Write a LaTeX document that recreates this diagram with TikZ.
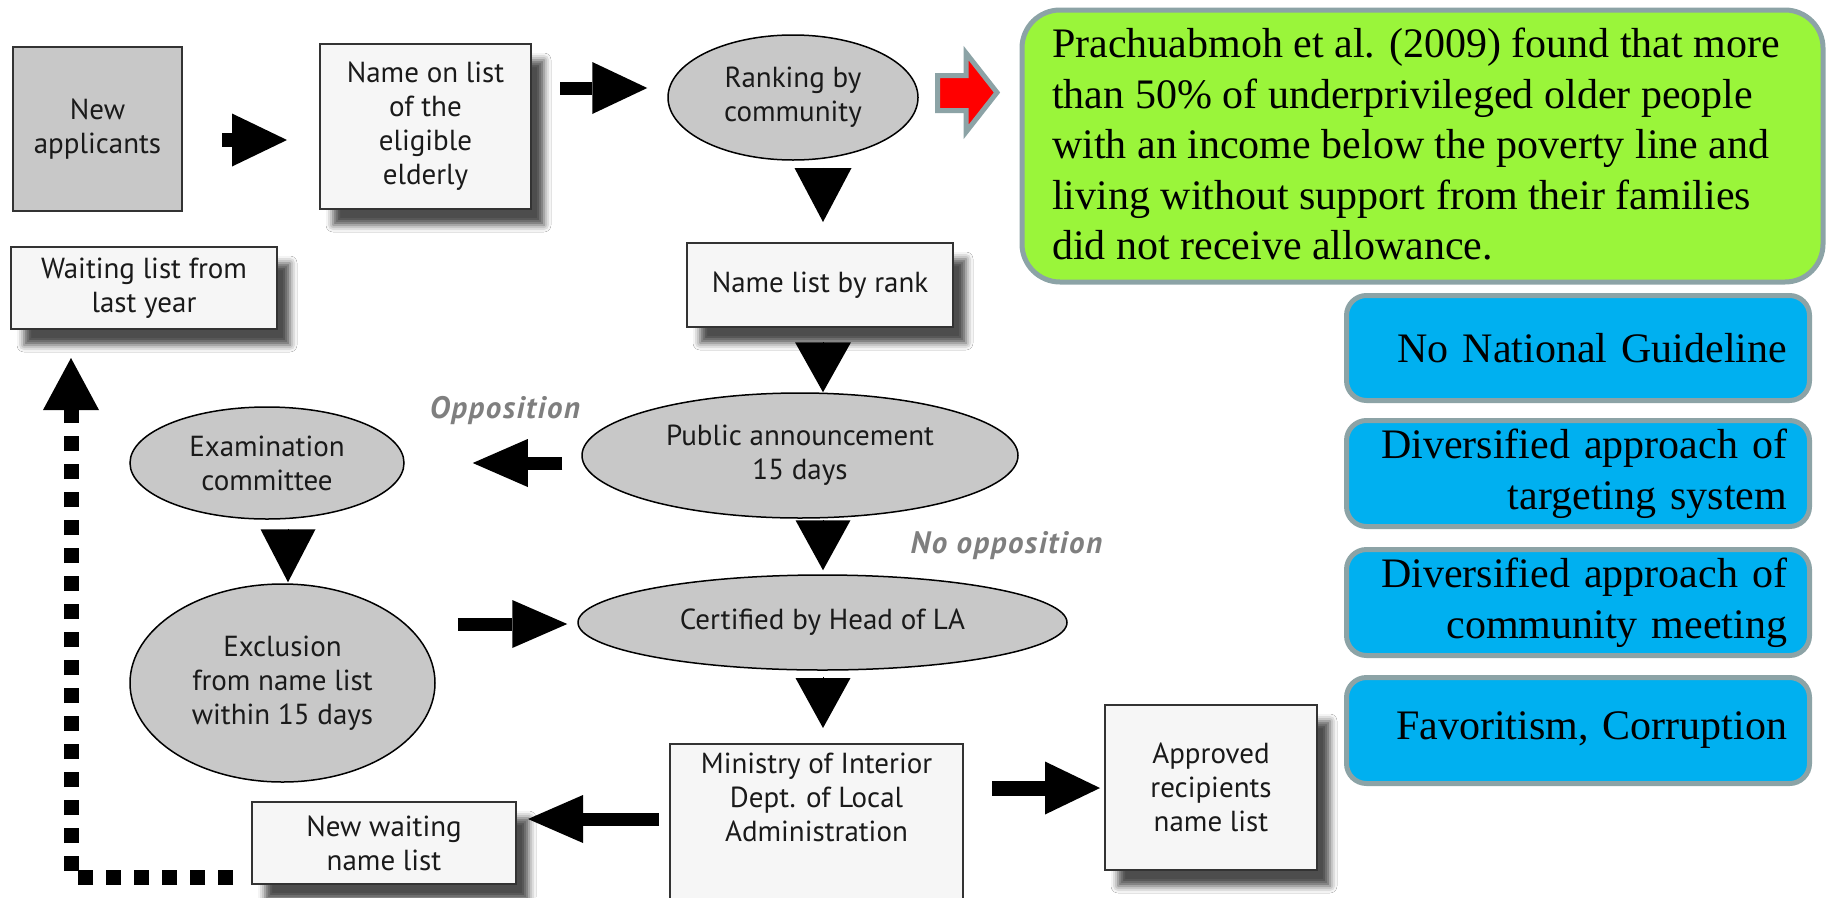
\documentclass[tikz,border=0pt]{standalone}
\usepackage{fontspec}
\setmainfont{Liberation Serif}
\newfontfamily\dia{PT Sans}
\newfontfamily\diacond[LetterSpace=5]{PT Sans}
\usetikzlibrary{shapes.geometric,arrows.meta,shadows.blur}
\definecolor{boxline}{HTML}{333333}
\definecolor{ellfill}{HTML}{C8C8C8}
\definecolor{boxfill}{HTML}{F6F6F6}
\definecolor{greenfill}{HTML}{9AF53A}
\definecolor{bluefill}{HTML}{00B0F0}
\definecolor{frame}{HTML}{8CA3A6}
\definecolor{labgray}{HTML}{7F7F7F}
\definecolor{ink}{HTML}{1A1A1A}
\begin{document}
\begin{tikzpicture}[x=1pt,y=-1pt,
  lab/.style={font=\dia\fontsize{29}{34}\selectfont, text=ink, align=center},
  graybox/.style={lab, rectangle, draw=boxline, line width=2pt, fill=ellfill, inner sep=0pt},
  plainbox/.style={lab, rectangle, draw=boxline, line width=2pt, fill=boxfill, inner sep=0pt},
  whitebox/.style={plainbox, blur shadow={shadow xshift=13pt, shadow yshift=-16pt, shadow blur radius=7pt, shadow opacity=70}},
  oval/.style={lab, ellipse, draw=black, line width=1.5pt, fill=ellfill, inner sep=0pt},
  blockarrow/.style 2 args={draw=black, line width=#1, -{Triangle[width=#2,length=55pt,line width=0pt]}},
  tri/.style 2 args={draw=black, line width=0.1pt, -{Triangle[width=#1,length=#2,line width=0pt]}},
  cond/.style={font=\diacond\bfseries\itshape\fontsize{31}{34}\selectfont, text=labgray, anchor=base, inner sep=0pt},
  note/.style={draw=frame, line width=5pt, fill=greenfill, rounded corners=38pt, inner sep=0pt},
  issue/.style={draw=frame, line width=5pt, fill=bluefill, rounded corners=20pt, minimum width=463pt, text width=418pt, inner xsep=22.5pt, inner ysep=0pt, align=right, font=\fontsize{42}{51}\selectfont},
]
\useasboundingbox (0,0) rectangle (1827,897);
\clip (0,0) rectangle (1827,897);
\fill[white] (0,0) rectangle (1827,897);

% flow nodes
\node[graybox, minimum width=169pt, minimum height=164pt] (newapp) at (97.5,129) {New\\applicants};
\node[whitebox, minimum width=211pt, minimum height=165pt] (namelist) at (425.5,126.5) {Name on list\\of the\\eligible\\elderly};
\node[whitebox, minimum width=266pt, minimum height=82pt] (waiting) at (144,288) {Waiting list from\\last year};
\node[oval, minimum width=250pt, minimum height=125pt] (ranking) at (793,97.5) {Ranking by\\community};
\node[whitebox, minimum width=266pt, minimum height=84pt] (namerank) at (820,285) {Name list by rank};
\node[oval, minimum width=436pt, minimum height=125pt] (public) at (800,455.5) {Public announcement\\15 days};
\node[oval, minimum width=274pt, minimum height=112pt] (exam) at (267,463) {Examination\\committee};
\node[oval, minimum width=305pt, minimum height=198pt] (exclusion) at (282.5,683) {Exclusion\\from name list\\within 15 days};
\node[oval, minimum width=489pt, minimum height=95pt] (certified) at (822.5,622.5) {Certified by Head of LA};
\node[plainbox, anchor=north, minimum width=293pt, inner ysep=9pt, text depth=90pt] (ministry) at (816.5,743) {Ministry of Interior\\Dept. of Local\\Administration};
\node[whitebox, minimum width=212pt, minimum height=165pt] (approved) at (1211,787.5) {Approved\\recipients\\name list};
\node[whitebox, minimum width=264pt, minimum height=82pt] (newwait) at (384,843) {New waiting\\name list};

% condition labels
\node[cond] (opp) at (505,418) {Opposition};
\node[cond] (noopp) at (1006.5,553) {No opposition};

% block arrows
\draw[blockarrow={14pt}{53pt}, shorten <=39pt, shorten >=32pt] (newapp.east |- 0,140) -- (namelist.west |- 0,140);
\draw[blockarrow={13pt}{52pt}, shorten <=28pt, shorten >=20pt] (namelist.east |- 0,88) -- (ranking.west |- 0,88);
\draw[tri={57pt}{54pt}, shorten <=7pt, shorten >=20pt] (ranking.south -| 823,0) -- (namerank.north -| 823,0);
\draw[tri={56pt}{50pt}, shorten <=14pt] (namerank.south -| 823,0) -- (public.north -| 823,0);
\draw[blockarrow={13pt}{48pt}, shorten <=19pt, shorten >=68pt] (public.west |- 0,463) -- (exam.east |- 0,463);
\draw[tri={55pt}{53pt}, shorten <=9pt, shorten >=1pt] (exam.south -| 288,0) -- (exclusion.north -| 288,0);
\draw[tri={55pt}{50pt}, shorten <=1pt, shorten >=4pt] (public.south -| 823,0) -- (certified.north -| 823,0);
\draw[blockarrow={13pt}{48pt}, shorten <=22pt, shorten >=10pt] (exclusion.east |- 0,624) -- (certified.west |- 0,624);
\draw[tri={55pt}{50pt}, shorten <=6pt, shorten >=15pt] (certified.south -| 823,0) -- (ministry.north -| 823,0);
\draw[blockarrow={15pt}{53pt}, shorten <=28pt, shorten >=4pt] (ministry.east |- 0,788) -- (approved.west |- 0,788);
\draw[blockarrow={13pt}{48pt}, shorten <=10pt, shorten >=11pt] (ministry.west |- 0,819) -- (newwait.east |- 0,819);

% dotted return path
\coordinate (corner) at (71,877);
\draw[draw=black, line width=15pt, dash pattern=on 15pt off 13pt, line join=miter,
      -{Triangle[width=56pt,length=52pt,line width=0pt]}, shorten <=18pt, shorten >=28pt]
  (newwait.west |- corner) -- (corner) -- (waiting.south -| corner);

% red arrow to the finding
\draw[draw=frame, fill=red, line width=5pt, line join=miter] (937.5,75.5) -- (966,75.5) -- (966,53) -- (997,92.5) -- (966,132) -- (966,110.5) -- (937.5,110.5) -- cycle;

% finding box
\node[note, anchor=north west, minimum width=801pt, minimum height=272pt] (finding) at (1019.5,7.5) {};
\node[font=\fontsize{42}{50.5}\selectfont, anchor=north west, align=left, inner sep=0pt] (findingtext) at (1052,28) {Prachuabmoh et al. (2009) found that more\\than 50\% of underprivileged older people\\with an income below the poverty line and\\living without support from their families\\did not receive allowance.};

% issues
\node[issue, minimum height=105pt] (issue1) at (1578,348) {No National Guideline};
\node[issue, minimum height=106pt] (issue2) at (1578,473.5) {Diversified approach of\\targeting system};
\node[issue, minimum height=106pt] (issue3) at (1578,602.5) {Diversified approach of\\community meeting};
\node[issue, minimum height=106pt] (issue4) at (1578,730.5) {Favoritism, Corruption};
\end{tikzpicture}
\end{document}
